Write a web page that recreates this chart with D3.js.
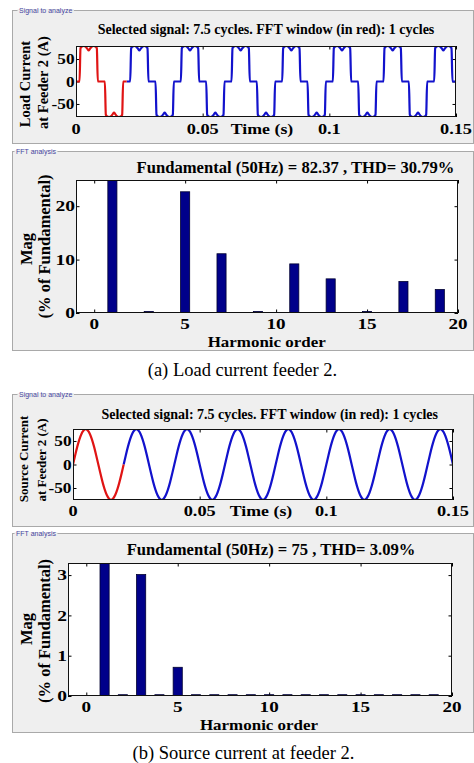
<!DOCTYPE html>
<html><head><meta charset="utf-8">
<script src="https://cdn.jsdelivr.net/npm/d3@7"></script>
<style>
body{margin:0;background:#fff}
svg{display:block}
text{font-family:"Liberation Serif","Times New Roman",serif;fill:#000}
</style>
</head><body>
<svg id="c" width="474" height="763"></svg>
<script>
// ---------------- data ----------------
const timeTicks = [0, 0.05, 0.1, 0.15];
const timeTickLabels = ["0", "0.05", "0.1", "0.15"];
const currentTicks = [-50, 0, 50];
const harmonicTicks = [0, 5, 10, 15, 20];
const loadMagTicks = [0, 10, 20];
const sourceMagTicks = [0, 1, 2, 3];
const harmonicOrders = [0,1,2,3,4,5,6,7,8,9,10,11,12,13,14,15,16,17,18,19,20];
// % of fundamental
const loadHarmonics   = [0, 100, 0, 0.2, 0, 22.6, 0, 11.0, 0, 0.2, 0, 9.1, 0, 6.3, 0, 0.2, 0, 5.8, 0, 4.3, 0];
const sourceHarmonics = [0, 100, 0.02, 3.0, 0.02, 0.7, 0.02, 0.02, 0.02, 0.02, 0.02, 0.02, 0.02, 0.02, 0.02, 0.02, 0.02, 0.02, 0.02, 0.02, 0];
// one cycle of load current (phase in degrees, value in A)
const loadCyclePhase = [0, 25, 32, 42, 55, 70, 82, 90, 98, 110, 125, 138, 148, 155, 180, 205, 212, 222, 235, 250, 262, 270, 278, 290, 305, 318, 328, 335];
const loadCycleValue = [0, 0, 74, 78, 79, 77, 72, 69, 72, 77, 79, 78, 74, 0, 0, 0, -74, -78, -79, -77, -72, -69, -72, -77, -79, -78, -74, 0];
// one cycle of source current
const sourceCyclePhase = [0, 15, 30, 45, 60, 75, 90, 105, 120, 135, 150, 165, 180, 195, 210, 225, 240, 255, 270, 285, 300, 315, 330, 345];
const sourceCycleValue = [0, 19.4, 37.5, 53, 65, 72.4, 75, 72.4, 65, 53, 37.5, 19.4, 0, -19.4, -37.5, -53, -65, -72.4, -75, -72.4, -65, -53, -37.5, -19.4];
const signalCycles = 7.5;
const period = 0.02;
const fftCycles = 1;
const loadTitle = "Fundamental (50Hz) = 82.37 , THD= 30.79%";
const sourceTitle = "Fundamental (50Hz) = 75 , THD= 3.09%";
const signalTitle = "Selected signal: 7.5 cycles. FFT window (in red): 1 cycles";

// ---------------- drawing ----------------
const svg = d3.select("#c");
let clipId = 0;

function buildSeries(phases, values) {
  const pts = [];
  for (let k = 0; k < Math.ceil(signalCycles); k++) {
    phases.forEach((ph, i) => {
      const t = (k + ph / 360) * period;
      if (t <= signalCycles * period + 1e-9) pts.push({t: t, v: values[i]});
    });
  }
  return pts;
}

function groupBox(b, label, lx) {
  const g = svg.append("g");
  g.append("rect").attr("x", b[0] + 0.5).attr("y", b[1] + 0.5)
    .attr("width", b[2] - b[0]).attr("height", b[3] - b[1])
    .attr("fill", "#efefef").attr("stroke", "#a9a9a9");
  const bg = g.append("rect").attr("fill", "#efefef");
  const t = g.append("text").attr("x", lx).attr("y", b[1] + 3)
    .style("font-family", "Arial, 'Liberation Sans', sans-serif")
    .style("font-size", "7px").style("fill", "#4646a0").text(label);
  const w = t.node().getComputedTextLength();
  bg.attr("x", lx - 1.5).attr("y", b[1] - 1).attr("width", w + 3).attr("height", 3);
}

function wideText(g, x, y, str, size, sx, anchor, weight) {
  return g.append("text")
    .attr("transform", `translate(${x},${y}) scale(${sx},1)`)
    .attr("text-anchor", anchor || "middle")
    .style("font-size", size + "px")
    .style("font-weight", weight || "bold")
    .text(str);
}

function rotLabel(g, bx, cy, str, size) {
  g.append("text").attr("transform", `translate(${bx},${cy}) rotate(-90)`)
    .attr("text-anchor", "middle").style("font-size", size + "px")
    .style("font-weight", "bold").text(str);
}

function frame(g, x, y, x0, x1, y0, y1, xt, yt) {
  g.append("rect").attr("x", x0).attr("y", y0).attr("width", x1 - x0).attr("height", y1 - y0).attr("fill", "#fff");
  const ts = 3.5;
  const axes = [
    [d3.axisBottom(x).tickValues(xt), `translate(0,${y1})`],
    [d3.axisTop(x).tickValues(xt), `translate(0,${y0})`],
    [d3.axisLeft(y).tickValues(yt), `translate(${x0},0)`],
    [d3.axisRight(y).tickValues(yt), `translate(${x1},0)`]
  ];
  axes.forEach(a => {
    const ag = g.append("g").attr("transform", a[1])
      .call(a[0].tickSize(-ts).tickSizeOuter(0).tickFormat(""));
    ag.select(".domain").remove();
    ag.selectAll("line").attr("stroke", "#000");
  });
}

function border(g, x0, x1, y0, y1) {
  g.append("rect").attr("x", x0 + 0.5).attr("y", y0 + 0.5).attr("width", x1 - x0 - 1).attr("height", y1 - y0 - 1)
    .attr("fill", "none").attr("stroke", "#111").attr("stroke-width", 1);
}

function clip(g, x0, x1, y0, y1) {
  const id = "clip" + (clipId++);
  svg.append("clipPath").attr("id", id).append("rect")
    .attr("x", x0).attr("y", y0).attr("width", x1 - x0).attr("height", y1 - y0);
  return "url(#" + id + ")";
}

function signalPanel(c) {
  groupBox(c.box, "Signal to analyze", 19);
  const g = svg.append("g");
  const x = d3.scaleLinear().domain([0, timeTicks[timeTicks.length - 1]]).range([c.x0, c.x1]);
  const y = d3.scaleLinear().domain([-c.ymax, c.ymax]).range([c.y1, c.y0]);
  frame(g, x, y, c.x0, c.x1, c.y0, c.y1, timeTicks, currentTicks);
  const cp = clip(g, c.x0, c.x1, c.y0, c.y1);
  const pts = buildSeries(c.phases, c.values);
  const tEnd = fftCycles * period;
  const line = d3.line().x(d => x(d.t)).y(d => y(d.v)).curve(c.curve);
  const lg = g.append("g").attr("clip-path", cp);
  lg.append("path").datum(pts.filter(d => d.t >= tEnd - 1e-9)).attr("d", line)
    .attr("fill", "none").attr("stroke", "#1212cc").attr("stroke-width", 2.2).attr("stroke-linejoin", "round");
  lg.append("path").datum(pts.filter(d => d.t <= tEnd + 1e-9)).attr("d", line)
    .attr("fill", "none").attr("stroke", "#e01414").attr("stroke-width", 2.2).attr("stroke-linejoin", "round");
  border(g, c.x0, c.x1, c.y0, c.y1);
  // texts
  g.append("text").attr("x", c.titleX).attr("y", c.titleY).attr("text-anchor", "middle")
    .style("font-size", "14px").style("font-weight", "bold").text(signalTitle);
  timeTicks.forEach((t, i) => wideText(g, x(t), c.tickY, timeTickLabels[i], 15, 1.22));
  currentTicks.forEach(v => wideText(g, c.x0 - 1.5, y(v) + 5.2, String(v), 15, 1.15, "end"));
  wideText(g, c.timeX, c.tickY, "Time (s)", 15.5, 1.15);
  rotLabel(g, c.lab1X, c.lab1Y, c.lab1, c.labSize);
  rotLabel(g, c.lab2X, c.lab2Y, "at Feeder 2 (A)", c.labSize);
}

function fftPanel(c) {
  groupBox(c.box, "FFT analysis", 16);
  const g = svg.append("g");
  const x = d3.scaleLinear().domain([-1, 20]).range([c.x0, c.x1]);
  const y = d3.scaleLinear().domain([0, c.ymax]).range([c.y1, c.y0]);
  frame(g, x, y, c.x0, c.x1, c.y0, c.y1, harmonicTicks, c.yTicks);
  const cp = clip(g, c.x0, c.x1, c.y0, c.y1);
  const data = harmonicOrders.map((h, i) => ({h: h, v: c.values[i]})).filter(d => d.v > 0);
  const bw = x(0.5) - x(0);
  g.append("g").attr("clip-path", cp).selectAll("rect").data(data).join("rect")
    .attr("x", d => x(d.h) - bw / 2).attr("width", bw)
    .attr("y", d => y(d.v) - 0.5).attr("height", d => y(0) - y(d.v) + 0.5)
    .attr("fill", "#00008a").attr("stroke", "#000030").attr("stroke-width", 0.8);
  border(g, c.x0, c.x1, c.y0, c.y1);
  g.append("text").attr("x", c.titleX).attr("y", c.titleY).attr("text-anchor", "middle")
    .style("font-size", "16.6px").style("font-weight", "bold").text(c.title);
  harmonicTicks.forEach(h => wideText(g, x(h), c.tickY, String(h), 14.5, 1.32));
  c.yTicks.forEach(v => wideText(g, c.x0 - 1, y(v) + 5.2, String(v), 15, 1.3, "end"));
  wideText(g, c.hoX, c.hoY, "Harmonic order", 15, 1.13);
  rotLabel(g, 31.5, c.magY, "Mag", 16.5);
  rotLabel(g, 50, c.pctY, "(% of Fundamental)", 16.5);
}

signalPanel({box: [12, 10, 473, 143], x0: 76, x1: 456, y0: 46, y1: 117, ymax: 79,
  phases: loadCyclePhase, values: loadCycleValue, curve: d3.curveMonotoneX,
  titleX: 266, titleY: 34.3, tickY: 134, timeX: 262,
  lab1: "Load Current", lab1X: 30, lab1Y: 84, lab2X: 48, lab2Y: 82.5, labSize: 14.5});

fftPanel({box: [12, 151, 473, 350], x0: 76, x1: 458, y0: 180, y1: 313, ymax: 24.9,
  yTicks: loadMagTicks, values: loadHarmonics, title: loadTitle,
  titleX: 295.5, titleY: 173.3, tickY: 329, hoX: 266.7, hoY: 346.8, magY: 249, pctY: 246.5});

svg.append("text").attr("x", 242.5).attr("y", 375.5).attr("text-anchor", "middle")
  .style("font-size", "18.5px").text("(a) Load current feeder 2.");

signalPanel({box: [12, 394, 473, 526], x0: 73, x1: 453, y0: 429, y1: 500, ymax: 75.5,
  phases: sourceCyclePhase, values: sourceCycleValue, curve: d3.curveNatural,
  titleX: 269.7, titleY: 419, tickY: 516, timeX: 261,
  lab1: "Source Current", lab1X: 28.3, lab1Y: 459, lab2X: 46, lab2Y: 460, labSize: 13});

fftPanel({box: [12, 533, 473, 732], x0: 68, x1: 452, y0: 563, y1: 696, ymax: 3.3,
  yTicks: sourceMagTicks, values: sourceHarmonics, title: sourceTitle,
  titleX: 271, titleY: 555, tickY: 712.3, hoX: 259, hoY: 729.8, magY: 629, pctY: 631});

svg.append("text").attr("x", 243.5).attr("y", 758.5).attr("text-anchor", "middle")
  .style("font-size", "18.5px").text("(b) Source current at feeder 2.");
</script>
</body></html>
